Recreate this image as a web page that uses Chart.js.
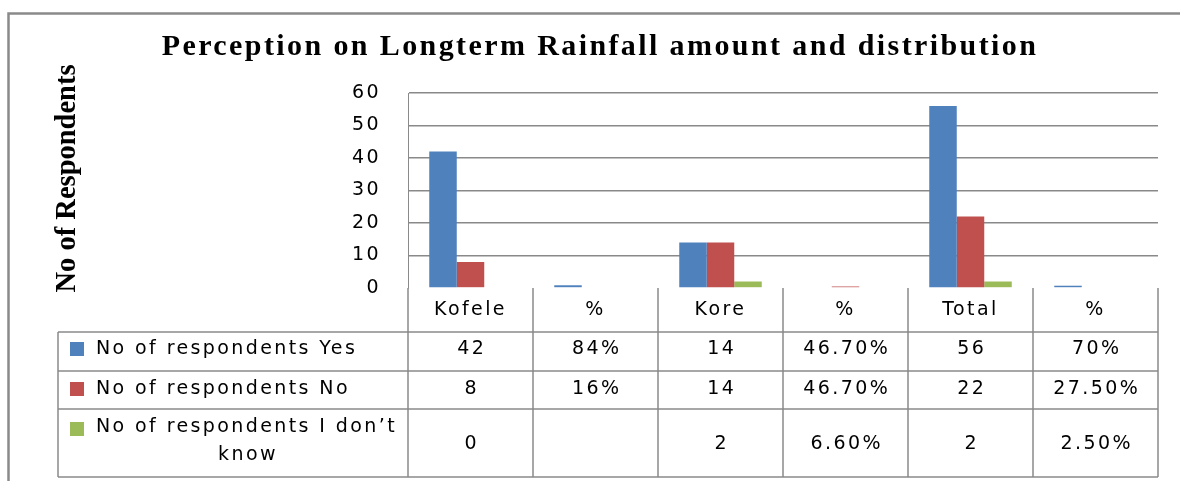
<!DOCTYPE html>
<html>
<head>
<meta charset="utf-8">
<script src="https://cdn.jsdelivr.net/npm/chart.js@4.4.0/dist/chart.umd.min.js"></script>
<style>
html,body{margin:0;padding:0;background:#fff;}
canvas{display:block;}
</style>
</head>
<body>
<canvas id="c" width="1180" height="481"></canvas>
<script>
// ---- data ----
const categories = ['Kofele', '%', 'Kore', '%', 'Total', '%'];
const seriesNames = ['No of respondents Yes', 'No of respondents No', 'No of respondents I don\u2019t know'];
const yesValues = [42, 0.84, 14, null, 56, 0.7];
const noValues = [8, null, 14, 0.467, 22, null];
const dontKnowValues = [0, null, 2, null, 2, null];
const yesTable = ['42', '84%', '14', '46.70%', '56', '70%'];
const noTable = ['8', '16%', '14', '46.70%', '22', '27.50%'];
const dontKnowTable = ['0', '', '2', '6.60%', '2', '2.50%'];
const yTicks = [0, 10, 20, 30, 40, 50, 60];
const titleText = 'Perception on Longterm Rainfall amount and distribution';
const yTitleText = 'No of Respondents';

// ---- styles ----
const seriesColors = ['#4F81BD', '#C0504D', '#9BBB59'];
const lineGray = '#8a8a8a';
const spacing = 2.4;
const tableFont = '19px "DejaVu Sans"';

const tablePlugin = {
  id: 'dataTable',
  beforeDraw(chart) {
    const ctx = chart.ctx;
    ctx.save();
    ctx.fillStyle = '#fff';
    ctx.fillRect(0, 0, chart.width, chart.height);
    ctx.restore();
    ctx.letterSpacing = spacing + 'px';
  },
  afterDraw(chart) {
    const ctx = chart.ctx;
    const xs = chart.scales.x;
    const area = chart.chartArea;
    ctx.save();
    const step = xs.getPixelForValue(1) - xs.getPixelForValue(0);
    const bounds = categories.map((c, i) => xs.getPixelForValue(i) - step / 2);
    bounds.push(xs.getPixelForValue(categories.length - 1) + step / 2);
    const tableLeft = 58;
    const rowLines = [332, 371, 409, 477];
    const right = bounds[bounds.length - 1];

    ctx.strokeStyle = lineGray;
    ctx.lineWidth = 1.5;
    ctx.beginPath();
    rowLines.forEach(y => { ctx.moveTo(tableLeft, y); ctx.lineTo(right, y); });
    ctx.moveTo(tableLeft, rowLines[0]); ctx.lineTo(tableLeft, rowLines[3]);
    bounds.forEach(x => { ctx.moveTo(x, area.bottom); ctx.lineTo(x, rowLines[3]); });
    ctx.stroke();

    ctx.letterSpacing = spacing + 'px';
    ctx.font = tableFont;
    ctx.fillStyle = '#000';
    ctx.textBaseline = 'middle';
    const rows = [
      {vals: yesTable, y: 349.5, sq: 349},
      {vals: noTable, y: 389.5, sq: 389},
      {vals: dontKnowTable, y: 444, sq: 429, wrap: true}
    ];
    rows.forEach((r, ri) => {
      ctx.fillStyle = seriesColors[ri];
      ctx.fillRect(70, r.sq - 7, 14, 14);
      ctx.fillStyle = '#000';
      const name = seriesNames[ri];
      if (!r.wrap) {
        ctx.textAlign = 'left';
        ctx.fillText(name, 96, r.y);
      } else {
        const cut = name.lastIndexOf(' ');
        ctx.textAlign = 'left';
        ctx.fillText(name.slice(0, cut), 96, 427.5);
        ctx.textAlign = 'center';
        ctx.fillText(name.slice(cut + 1), 248, 455);
      }
      ctx.textAlign = 'center';
      r.vals.forEach((v, i) => {
        ctx.fillText(v, xs.getPixelForValue(i) + spacing / 2, r.y);
      });
    });

    // outer frame
    ctx.strokeStyle = lineGray;
    ctx.lineWidth = 2.5;
    ctx.beginPath();
    ctx.moveTo(8.5, chart.height + 2);
    ctx.lineTo(8.5, 13.5);
    ctx.lineTo(chart.width + 2, 13.5);
    ctx.stroke();

    // vertical axis title
    ctx.letterSpacing = '0px';
    ctx.font = 'bold 28.5px "Liberation Serif"';
    ctx.fillStyle = '#000';
    ctx.translate(75, 178.5);
    ctx.rotate(-Math.PI / 2);
    ctx.textAlign = 'center';
    ctx.textBaseline = 'alphabetic';
    ctx.fillText(yTitleText, 0, 0);
    ctx.restore();
  }
};

new Chart(document.getElementById('c'), {
  type: 'bar',
  data: {
    labels: categories,
    datasets: [
      {label: seriesNames[0], data: yesValues, backgroundColor: seriesColors[0]},
      {label: seriesNames[1], data: noValues, backgroundColor: seriesColors[1]},
      {label: seriesNames[2], data: dontKnowValues, backgroundColor: seriesColors[2]}
    ]
  },
  options: {
    responsive: false,
    animation: false,
    devicePixelRatio: 1,
    datasets: {bar: {categoryPercentage: 0.66, barPercentage: 1, borderWidth: 0}},
    layout: {padding: {left: 42, right: 22, top: 0, bottom: 0}},
    plugins: {
      legend: {display: false},
      tooltip: {enabled: false},
      title: {
        display: true,
        text: titleText,
        color: '#000',
        font: {family: 'Liberation Serif', size: 30, weight: 'bold', lineHeight: 1},
        padding: {top: 32.5, bottom: 30.5}
      }
    },
    scales: {
      x: {
        grid: {display: false, drawTicks: false},
        border: {display: false},
        ticks: {font: {family: 'DejaVu Sans', size: 19}, color: '#000', padding: 10.5, maxRotation: 0, autoSkip: false},
        afterFit(scale) { scale.height = 193; }
      },
      y: {
        min: yTicks[0],
        max: yTicks[yTicks.length - 1],
        ticks: {stepSize: yTicks[1] - yTicks[0], font: {family: 'DejaVu Sans', size: 19}, color: '#000', padding: 27},
        grid: {
          drawTicks: false,
          lineWidth: 1.6,
          color: c => (c.tick && c.tick.value === 0) ? 'rgba(0,0,0,0)' : '#898989'
        },
        border: {display: true, color: lineGray, width: 1},
        afterFit(scale) { scale.width = 366; }
      }
    }
  },
  plugins: [tablePlugin]
});
</script>
</body>
</html>
